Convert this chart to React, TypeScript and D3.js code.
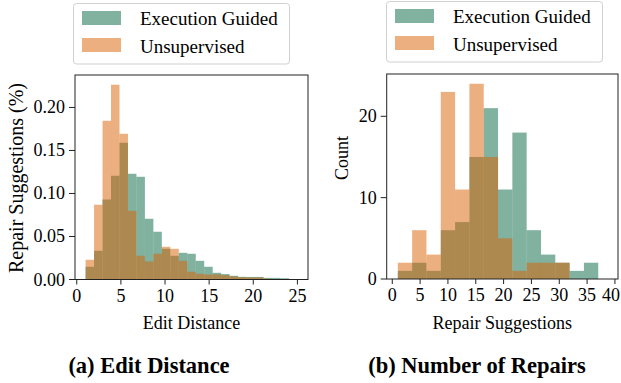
import React from "react";
import * as d3 from "d3";

// Edit distance histogram (density), 25 equal bins from 1 to 25
const editRange: [number, number] = [1, 25];
const editBinCount = 25;
const editGuided = [
  0.0148, 0.0334, 0.093, 0.1206, 0.159, 0.1229, 0.1194, 0.0706, 0.0555, 0.0357,
  0.0276, 0.031, 0.0299, 0.0217, 0.0148, 0.0078, 0.0063, 0.0043, 0.0031, 0.003,
  0.003, 0.0019, 0.0019, 0.0015, 0,
];
const editUnsup = [
  0.0229, 0.0869, 0.1845, 0.2264, 0.1694, 0.0799, 0.0276, 0.021, 0.0299, 0.038,
  0.0357, 0.0217, 0.009, 0.0066, 0.0058, 0.006, 0.005, 0.0035, 0.0027, 0.0023,
  0.0023, 0.001, 0, 0, 0,
];
const editXTicks = [0, 5, 10, 15, 20, 25];
const editYTicks = [0, 0.05, 0.1, 0.15, 0.2];

// Number of repairs histogram (counts), 14 bins from 1 to 37
const repairRange: [number, number] = [1, 37];
const repairBinCount = 14;
const repairGuided = [1, 2, 1, 6, 7, 15, 21, 11, 18, 6, 3, 2, 1, 2];
const repairUnsup = [2, 6, 3, 23, 11, 24, 15, 5, 1, 2, 2, 2, 0, 0];
const repairXTicks = [0, 5, 10, 15, 20, 25, 30, 35, 40];
const repairYTicks = [0, 10, 20];

const seriesNames = ["Execution Guided", "Unsupervised"];
const colors = ["#03663f", "#d95f02"];
const alpha = 0.5;

const serif = "'Liberation Serif', 'Times New Roman', serif";

type PanelProps = {
  box: { x0: number; x1: number; y0: number; y1: number };
  xDomain: [number, number];
  range: [number, number];
  binCount: number;
  series: number[][];
  xTicks: number[];
  yTicks: number[];
  yFormat: (v: number) => string;
  xLabel: string;
  yLabel: string;
  yLabelPos: [number, number];
  yLabelSize: number;
  caption: string;
  captionX: number;
  legend: [number, number];
};

const Panel = (p: PanelProps) => {
  const { box } = p;
  const x = d3.scaleLinear().domain(p.xDomain).range([box.x0, box.x1]);
  const yMax = (d3.max(p.series.flat()) || 1) * 1.05;
  const y = d3.scaleLinear().domain([0, yMax]).range([box.y1, box.y0]);
  const w = (p.range[1] - p.range[0]) / p.binCount;

  const [lx, ly] = p.legend;

  return (
    <g>
      {p.series.map((vals, si) => (
        <g key={si}>
          {vals.map((v, i) => {
            if (v <= 0) return null;
            const a = x(p.range[0] + i * w);
            const b = x(p.range[0] + (i + 1) * w);
            return (
              <rect
                key={i}
                x={a}
                y={y(v)}
                width={b - a}
                height={y(0) - y(v)}
                fill={colors[si]}
                fillOpacity={alpha}
              />
            );
          })}
        </g>
      ))}
      <rect
        x={box.x0}
        y={box.y0}
        width={box.x1 - box.x0}
        height={box.y1 - box.y0}
        fill="none"
        stroke="#222"
        strokeWidth={1}
      />
      {p.xTicks.map((t) => (
        <g key={t}>
          <line x1={x(t)} x2={x(t)} y1={box.y1} y2={box.y1 + 5} stroke="#222" />
          <text
            x={Math.min(x(t), 611)}
            y={box.y1 + 22}
            textAnchor="middle"
            fontSize={18}
            fontFamily={serif}
          >
            {t}
          </text>
        </g>
      ))}
      {p.yTicks.map((t) => (
        <g key={t}>
          <line x1={box.x0 - 6} x2={box.x0} y1={y(t)} y2={y(t)} stroke="#222" />
          <text
            x={box.x0 - 10}
            y={y(t) + 6}
            textAnchor="end"
            fontSize={18}
            fontFamily={serif}
          >
            {p.yFormat(t)}
          </text>
        </g>
      ))}
      <text
        x={(box.x0 + box.x1) / 2}
        y={329}
        textAnchor="middle"
        fontSize={18}
        fontFamily={serif}
      >
        {p.xLabel}
      </text>
      <text
        transform={`translate(${p.yLabelPos[0]},${p.yLabelPos[1]}) rotate(-90)`}
        textAnchor="middle"
        fontSize={p.yLabelSize}
        fontFamily={serif}
      >
        {p.yLabel}
      </text>
      <text
        x={p.captionX}
        y={373}
        textAnchor="middle"
        fontSize={22.5}
        fontWeight="bold"
        fontFamily={serif}
      >
        {p.caption}
      </text>
      <g>
        <rect
          x={lx}
          y={ly}
          width={216}
          height={60.5}
          rx={3}
          fill="white"
          fillOpacity={0.8}
          stroke="#d0d0d0"
        />
        {seriesNames.map((name, i) => (
          <g key={name}>
            <rect
              x={lx + 8.5}
              y={ly + 7.5 + i * 27}
              width={39}
              height={14}
              fill={colors[i]}
              fillOpacity={alpha}
            />
            <text x={lx + 66.5} y={ly + 21 + i * 28} fontSize={19} fontFamily={serif}>
              {name}
            </text>
          </g>
        ))}
      </g>
    </g>
  );
};

export default function App() {
  return (
    <svg
      width={621}
      height={383}
      style={{ position: "absolute", left: 0, top: 0, background: "white" }}
    >
      <Panel
        box={{ x0: 75, x1: 308, y0: 75, y1: 279.5 }}
        xDomain={[
          editRange[0] - 0.05 * (editRange[1] - editRange[0]),
          editRange[1] + 0.05 * (editRange[1] - editRange[0]),
        ]}
        range={editRange}
        binCount={editBinCount}
        series={[editGuided, editUnsup]}
        xTicks={editXTicks}
        yTicks={editYTicks}
        yFormat={(v) => v.toFixed(2)}
        xLabel="Edit Distance"
        yLabel="Repair Suggestions (%)"
        yLabelPos={[23, 178]}
        yLabelSize={20}
        caption="(a) Edit Distance"
        captionX={149}
        legend={[73.5, 3.5]}
      />
      <Panel
        box={{ x0: 386.7, x1: 618, y0: 74, y1: 279 }}
        xDomain={[-1, 40.55]}
        range={repairRange}
        binCount={repairBinCount}
        series={[repairGuided, repairUnsup]}
        xTicks={repairXTicks}
        yTicks={repairYTicks}
        yFormat={(v) => String(v)}
        xLabel="Repair Suggestions"
        yLabel="Count"
        yLabelPos={[348, 158]}
        yLabelSize={18}
        caption="(b) Number of Repairs"
        captionX={477}
        legend={[386.5, 1.5]}
      />
    </svg>
  );
}
